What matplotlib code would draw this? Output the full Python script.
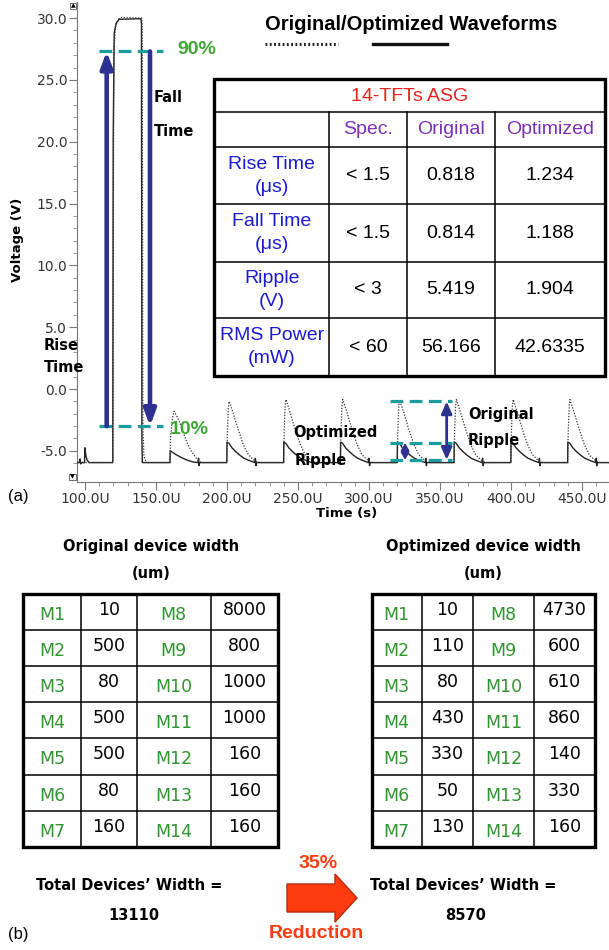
import numpy as np
import matplotlib.pyplot as plt
from matplotlib.patches import Rectangle, FancyArrow
from matplotlib.ticker import MultipleLocator, FuncFormatter

# ---- waveform points: (time in us, voltage in V) ----
# optimized (solid line)
opt_pts = [
    (94.4, -5.95), (96.0, -5.95), (96.5, -5.65), (97.0, -6.05), (97.5, -5.95), (99.7, -5.95),
    (100.0, -4.75), (100.6, -5.35), (101.5, -5.75), (103.0, -5.95),
    (119.6, -5.95), (119.9, 20.5), (120.6, 28.8), (122.0, 29.6), (124.0, 29.9), (139.4, 29.95),
    (139.8, 29.5), (140.1, -4.0), (140.4, -5.95),
    (159.9, -5.95), (160.0, -5.0), (161.5, -5.1), (164.0, -5.3), (168.0, -5.55), (172.0, -5.75), (176.0, -5.9),
    (179.5, -5.95), (180.0, -5.6), (180.4, -6.2), (180.8, -5.95),
    (199.9, -5.95), (200.0, -4.3), (201.5, -4.4), (203.5, -4.75), (206.0, -5.05), (209.0, -5.35), (212.0, -5.6),
    (216.0, -5.8), (219.6, -5.95), (220.0, -5.6), (220.4, -6.2), (220.8, -5.95),
    (239.9, -5.95), (240.0, -4.3), (241.5, -4.4), (243.5, -4.75), (246.0, -5.05), (249.0, -5.35), (252.0, -5.6),
    (256.0, -5.8), (259.6, -5.95), (260.0, -5.6), (260.4, -6.2), (260.8, -5.95),
    (279.9, -5.95), (280.0, -4.3), (281.5, -4.4), (283.5, -4.75), (286.0, -5.05), (289.0, -5.35), (292.0, -5.6),
    (296.0, -5.8), (299.6, -5.95), (300.0, -5.6), (300.4, -6.2), (300.8, -5.95),
    (319.9, -5.95), (320.0, -4.3), (321.5, -4.4), (323.5, -4.75), (326.0, -5.05), (329.0, -5.35), (332.0, -5.6),
    (336.0, -5.8), (339.6, -5.95), (340.0, -5.6), (340.4, -6.2), (340.8, -5.95),
    (359.9, -5.95), (360.0, -4.3), (361.5, -4.4), (363.5, -4.75), (366.0, -5.05), (369.0, -5.35), (372.0, -5.6),
    (376.0, -5.8), (379.6, -5.95), (380.0, -5.6), (380.4, -6.2), (380.8, -5.95),
    (399.9, -5.95), (400.0, -4.3), (401.5, -4.4), (403.5, -4.75), (406.0, -5.05), (409.0, -5.35), (412.0, -5.6),
    (416.0, -5.8), (419.6, -5.95), (420.0, -5.6), (420.4, -6.2), (420.8, -5.95),
    (439.9, -5.95), (440.0, -4.3), (441.5, -4.4), (443.5, -4.75), (446.0, -5.05), (449.0, -5.35), (452.0, -5.6),
    (456.0, -5.8), (459.6, -5.95), (460.0, -5.6), (460.4, -6.2), (460.8, -5.95), (469.0, -5.95),
]
# original (dotted line)
orig_pts = [
    (94.4, -5.95), (119.7, -5.95), (120.0, 15.0), (120.4, 27.5), (121.5, 29.3), (123.5, 29.9), (125.0, 30.05),
    (140.0, 30.0), (140.3, 29.0), (140.8, -3.0), (141.5, -5.4), (143.0, -5.9), (144.0, -5.95),
    (159.9, -5.95), (160.3, -4.0), (161.5, -2.4), (162.7, -1.8), (164.0, -2.05), (167.0, -2.75), (171.5, -4.25),
    (175.0, -5.05), (178.5, -5.6), (181.0, -5.9), (183.0, -5.95),
    (199.9, -5.95), (200.3, -3.5), (201.0, -1.5), (201.5, -1.0), (202.5, -1.3), (204.5, -2.0), (208.0, -3.3),
    (211.5, -4.5), (215.0, -5.3), (218.5, -5.7), (221.0, -5.9), (223.0, -5.95),
    (239.9, -5.95), (240.3, -3.4), (241.0, -1.3), (241.5, -0.85), (242.5, -1.2), (244.5, -1.9), (248.0, -3.25),
    (251.5, -4.45), (255.0, -5.3), (258.5, -5.7), (261.0, -5.9), (263.0, -5.95),
    (279.9, -5.95), (280.3, -3.4), (281.0, -1.3), (281.5, -0.85), (282.5, -1.2), (284.5, -1.9), (288.0, -3.25),
    (291.5, -4.45), (295.0, -5.3), (298.5, -5.7), (301.0, -5.9), (303.0, -5.95),
    (319.9, -5.95), (320.3, -3.4), (321.0, -1.3), (321.5, -0.9), (322.5, -1.2), (324.5, -1.9), (328.0, -3.25),
    (331.5, -4.45), (335.0, -5.3), (338.5, -5.7), (341.0, -5.9), (343.0, -5.95),
    (359.9, -5.95), (360.3, -3.4), (361.0, -1.3), (361.5, -0.85), (362.5, -1.2), (364.5, -1.9), (368.0, -3.25),
    (371.5, -4.45), (375.0, -5.3), (378.5, -5.7), (381.0, -5.9), (383.0, -5.95),
    (399.9, -5.95), (400.3, -3.4), (401.0, -1.3), (401.5, -0.85), (402.5, -1.2), (404.5, -1.9), (408.0, -3.25),
    (411.5, -4.45), (415.0, -5.3), (418.5, -5.7), (421.0, -5.9), (423.0, -5.95),
    (439.9, -5.95), (440.3, -3.4), (441.0, -1.3), (441.5, -0.85), (442.5, -1.2), (444.5, -1.9), (448.0, -3.25),
    (451.5, -4.45), (455.0, -5.3), (458.5, -5.7), (461.0, -5.9), (463.0, -5.95), (469.0, -5.95),
]

# 10% / 90% levels and the ripple marker levels (V)
pct_levels = [27.3, -3.0]
pct_labels = ["90%", "10%"]
ripple_levels = [-1.0, -4.37, -5.73]

# ---- performance table ----
tbl_title = "14-TFTs ASG"
tbl_cols = ["Spec.", "Original", "Optimized"]
tbl_rows = ["Rise Time\n(\u03bcs)", "Fall Time\n(\u03bcs)", "Ripple\n(V)", "RMS Power\n(mW)"]
tbl_spec = ["< 1.5", "< 1.5", "< 3", "< 60"]
tbl_orig = ["0.818", "0.814", "5.419", "56.166"]
tbl_opt = ["1.234", "1.188", "1.904", "42.6335"]

# ---- device widths (um) ----
dev_left = ["M1", "M2", "M3", "M4", "M5", "M6", "M7"]
dev_right = ["M8", "M9", "M10", "M11", "M12", "M13", "M14"]
orig_w_left = [10, 500, 80, 500, 500, 80, 160]
orig_w_right = [8000, 800, 1000, 1000, 160, 160, 160]
opt_w_left = [10, 110, 80, 430, 330, 50, 130]
opt_w_right = [4730, 600, 610, 860, 140, 330, 160]

navy = "#2e3192"
teal = "#1a9c9c"
pct_green = "#3fa535"
dev_green = "#2e962e"
red = "#e8221c"
purple = "#7b30b8"
blue = "#1a1ad6"
orange = "#ff3b0f"
ARIAL = "Liberation Sans"

W, H = 609, 950
fig = plt.figure(figsize=(W / 100, H / 100), dpi=100)
ax = fig.add_axes([77 / W, 1 - 482 / H, (W - 77) / W, 480 / H])

ot, ov = zip(*opt_pts)
rt, rv = zip(*orig_pts)
ax.plot(ot, ov, color="#222222", lw=1.0, zorder=3)
ax.plot(rt, rv, color="#333333", lw=0.9, ls=(0, (1, 1.3)), zorder=3)

ax.set_xlim(94.4, 469.0)
ax.set_ylim(-7.52, 31.3)
ax.xaxis.set_major_locator(MultipleLocator(50))
ax.xaxis.set_minor_locator(MultipleLocator(10))
ax.yaxis.set_major_locator(MultipleLocator(5))
ax.yaxis.set_minor_locator(MultipleLocator(1))
ax.xaxis.set_major_formatter(FuncFormatter(lambda v, p: f"{v:.1f}U"))
ax.yaxis.set_major_formatter(FuncFormatter(lambda v, p: f"{v:.1f}"))
for s in ["top", "right"]:
    ax.spines[s].set_visible(False)
for s in ["left", "bottom"]:
    ax.spines[s].set_color("#777777")
    ax.spines[s].set_linewidth(0.8)
ax.tick_params(which="major", length=5.5, width=0.8, color="#777777",
               labelsize=10, labelcolor="#333333", pad=1.5)
ax.tick_params(which="minor", length=3, width=0.6, color="#888888")
ax.set_facecolor("none")

# 10% / 90% dashed levels
ax.hlines(pct_levels, 109.9, 154.9, colors=teal, lw=2.3, linestyles=[(0, (4, 2))], zorder=4)
# rise / fall arrows
arr = dict(arrowstyle="-|>,head_length=0.8,head_width=0.3", color=navy, lw=3.3,
           shrinkA=0, shrinkB=0, mutation_scale=12)
ax.annotate("", xy=(115.3, pct_levels[0]), xytext=(115.3, pct_levels[1]), arrowprops=arr, zorder=5)
ax.annotate("", xy=(145.8, pct_levels[1]), xytext=(145.8, pct_levels[0]), arrowprops=arr, zorder=5)

# ripple markers
ax.hlines(ripple_levels, 314.8, 358.5, colors=teal, lw=2.3, linestyles=[(0, (4, 2))], zorder=4)
arr2 = dict(arrowstyle="<|-|>,head_length=0.8,head_width=0.35", color=navy, lw=2.0,
            shrinkA=0, shrinkB=0, mutation_scale=9)
ax.annotate("", xy=(354.7, ripple_levels[0]), xytext=(354.7, ripple_levels[2]), arrowprops=arr2, zorder=5)
arr3 = dict(arrowstyle="<|-|>,head_length=0.6,head_width=0.35", color=navy, lw=1.4,
            shrinkA=0, shrinkB=0, mutation_scale=7)
ax.annotate("", xy=(325.4, ripple_levels[1]), xytext=(325.4, ripple_levels[2]), arrowprops=arr3, zorder=5)

# ---- overlay in pixel coordinates for texts and tables ----
o = fig.add_axes([0, 0, 1, 1], zorder=10)
o.set_xlim(0, W)
o.set_ylim(H, 0)
o.axis("off")

o.text(73, 6, "\u25b2", fontsize=4.5, ha="center", va="center",
       bbox=dict(boxstyle="square,pad=0.15", fc="white", ec="#555555", lw=0.6))
o.text(72.5, 477, "\u25bc", fontsize=4.5, ha="center", va="center",
       bbox=dict(boxstyle="square,pad=0.15", fc="white", ec="#555555", lw=0.6))

o.text(18, 240, "Voltage (V)", rotation=90, fontsize=9.5, fontweight="bold", ha="center", va="center")
o.text(347, 513, "Time (s)", fontsize=9.5, fontweight="bold", ha="center", va="center")
o.text(18, 497, "(a)", fontsize=12, family=ARIAL, ha="center", va="center")
o.text(18, 935, "(b)", fontsize=12, family=ARIAL, ha="center", va="center")

o.text(177, 49, pct_labels[0], fontsize=14, fontweight="bold", family=ARIAL, color=pct_green, va="center")
o.text(170, 430, pct_labels[1], fontsize=14, fontweight="bold", family=ARIAL, color=pct_green, va="center")
o.text(154, 97, "Fall", fontsize=10.5, fontweight="bold", va="center")
o.text(154, 132, "Time", fontsize=10.5, fontweight="bold", va="center")
o.text(44, 346, "Rise", fontsize=10.5, fontweight="bold", va="center")
o.text(44, 368, "Time", fontsize=10.5, fontweight="bold", va="center")
o.text(468, 415, "Original", fontsize=10.5, fontweight="bold", va="center")
o.text(468, 441, "Ripple", fontsize=10.5, fontweight="bold", va="center")
o.text(293, 433, "Optimized", fontsize=10.5, fontweight="bold", va="center")
o.text(295, 460, "Ripple", fontsize=10.5, fontweight="bold", va="center")

# legend
o.text(411, 25, "Original/Optimized Waveforms", fontsize=14.5, fontweight="bold", family=ARIAL,
       ha="center", va="center")
o.plot([265, 338], [44, 44], color="#222222", lw=2.2, ls=(0, (0.6, 0.8)))
o.plot([373, 447], [44, 44], color="#111111", lw=2.4)

# performance table
colx = [214, 329.3, 407.3, 495, 605]
rowy = [79, 111.7, 147.3, 204.3, 261.7, 318.3, 376]
o.add_patch(Rectangle((colx[0], rowy[0]), colx[-1] - colx[0], rowy[-1] - rowy[0],
                      fc="white", ec="none", zorder=1))
for y in rowy[1:-1]:
    o.plot([colx[0], colx[-1]], [y, y], color="black", lw=1.1, zorder=2)
for x in colx[1:-1]:
    o.plot([x, x], [rowy[1], rowy[-1]], color="black", lw=1.1, zorder=2)
o.add_patch(Rectangle((colx[0], rowy[0]), colx[-1] - colx[0], rowy[-1] - rowy[0],
                      fc="none", ec="black", lw=2.4, zorder=3))
o.text((colx[0] + colx[-1]) / 2, (rowy[0] + rowy[1]) / 2 + 1, tbl_title, color=red,
       fontsize=14, family=ARIAL, ha="center", va="center")
for j, c in enumerate(tbl_cols):
    o.text((colx[j + 1] + colx[j + 2]) / 2, (rowy[1] + rowy[2]) / 2, c, color=purple,
           fontsize=14, family=ARIAL, ha="center", va="center")
for i in range(len(tbl_rows)):
    yc = (rowy[i + 2] + rowy[i + 3]) / 2
    o.text((colx[0] + colx[1]) / 2, yc, tbl_rows[i], color=blue, fontsize=14, family=ARIAL,
           ha="center", va="center", linespacing=1.45)
    for j, vals in enumerate([tbl_spec, tbl_orig, tbl_opt]):
        o.text((colx[j + 1] + colx[j + 2]) / 2, yc, vals[i], color="black", fontsize=14,
               family=ARIAL, ha="center", va="center")


def width_table(cx, title, lvals, rvals):
    ys = np.linspace(594, 846.7, len(dev_left) + 1)
    o.text((cx[0] + cx[-1]) / 2, 546, title, fontsize=10.5, fontweight="bold", ha="center", va="center")
    o.text((cx[0] + cx[-1]) / 2, 574, "(um)", fontsize=10.5, fontweight="bold", ha="center", va="center")
    for y in ys[1:-1]:
        o.plot([cx[0], cx[-1]], [y, y], color="black", lw=1.1)
    for x in cx[1:-1]:
        o.plot([x, x], [ys[0], ys[-1]], color="black", lw=1.1)
    o.add_patch(Rectangle((cx[0], ys[0]), cx[-1] - cx[0], ys[-1] - ys[0], fc="none", ec="black", lw=2.4))
    for i in range(len(dev_left)):
        yc = (ys[i] + ys[i + 1]) / 2
        cells = [(dev_left[i], dev_green, 3), (str(lvals[i]), "black", -2),
                 (dev_right[i], dev_green, 3), (str(rvals[i]), "black", -2)]
        for j, (s, col, dy) in enumerate(cells):
            o.text((cx[j] + cx[j + 1]) / 2, yc + dy, s, color=col, fontsize=12.5,
                   ha="center", va="center")


width_table([23.3, 81, 136.7, 210.7, 278.3], "Original device width", orig_w_left, orig_w_right)
width_table([371.7, 421.7, 473.3, 534, 595], "Optimized device width", opt_w_left, opt_w_right)

tot_orig = sum(orig_w_left) + sum(orig_w_right)
tot_opt = sum(opt_w_left) + sum(opt_w_right)
red_pct = round(100 * (1 - tot_opt / tot_orig))

o.text(129, 885, "Total Devices\u2019 Width =", fontsize=10.5, fontweight="bold", ha="center", va="center")
o.text(134, 916, str(tot_orig), fontsize=10.5, fontweight="bold", ha="center", va="center")
o.text(463, 885, "Total Devices\u2019 Width =", fontsize=10.5, fontweight="bold", ha="center", va="center")
o.text(466, 916, str(tot_opt), fontsize=10.5, fontweight="bold", ha="center", va="center")
o.text(318, 863, f"{red_pct}%", fontsize=14, fontweight="bold", family=ARIAL, color=orange,
       ha="center", va="center")
o.text(316, 933, "Reduction", fontsize=14, fontweight="bold", family=ARIAL, color=orange,
       ha="center", va="center")
o.add_patch(FancyArrow(287, 898, 70, 0, width=28, head_width=48, head_length=22,
                       length_includes_head=True, fc=orange, ec="#b52a0a", lw=1.0))

fig.savefig("out.png", dpi=100)
